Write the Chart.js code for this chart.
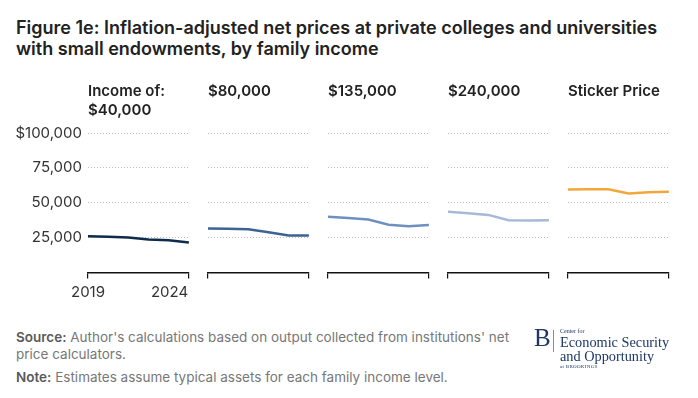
<!DOCTYPE html>
<html>
<head>
<meta charset="utf-8">
<script src="https://cdn.jsdelivr.net/npm/chart.js@4.4.1/dist/chart.umd.min.js"></script>
<style>
  html, body { margin: 0; padding: 0; background: #fff; }
  body { width: 698px; height: 398px; position: relative; overflow: hidden; font-family: Inter, 'Noto Sans', sans-serif; }
  .title { position: absolute; left: 16px; top: 17px; font-size: 18px; line-height: 21px; font-weight: 600; color: #222; }
  canvas.panel { position: absolute; top: 70px; }
  .foot { position: absolute; left: 16px; font-size: 13.5px; line-height: 17px; color: #777; width: 512px; }
  .foot b { color: #5a5a5a; font-weight: 600; }
  .logo { position: absolute; left: 534px; top: 326px; color: #1d3767; font-family: 'Liberation Serif', 'DejaVu Serif', serif; }
  .logo .big { position: absolute; left: 0; top: 0; font-size: 25px; line-height: 24px; }
  .logo .bar { position: absolute; left: 19px; top: 4px; width: 1px; height: 22px; background: #7d8db0; }
  .logo .sm { position: absolute; left: 26px; font-size: 6px; white-space: nowrap; }
  .logo .mid { position: absolute; left: 26px; font-size: 14.3px; line-height: 14px; white-space: nowrap; }
</style>
</head>
<body>
<div class="title">Figure 1e: Inflation-adjusted net prices at private colleges and universities<br>with small endowments, by family income</div>

<canvas class="panel" id="p0" width="232" height="240" style="left:0px"></canvas>
<canvas class="panel" id="p1" width="232" height="240" style="left:120px"></canvas>
<canvas class="panel" id="p2" width="232" height="240" style="left:240px"></canvas>
<canvas class="panel" id="p3" width="232" height="240" style="left:360px"></canvas>
<canvas class="panel" id="p4" width="232" height="240" style="left:480px"></canvas>

<div class="foot" style="top:329px"><b>Source:</b> Author's calculations based on output collected from institutions' net price calculators.</div>
<div class="foot" style="top:369px"><b>Note:</b> Estimates assume typical assets for each family income level.</div>

<div class="logo">
  <div class="big">B</div>
  <div class="bar"></div>
  <div class="sm" style="top:2px">Center for</div>
  <div class="mid" style="top:9px">Economic Security</div>
  <div class="mid" style="top:23px">and Opportunity</div>
  <div class="sm" style="top:38px; font-size:5px; letter-spacing:0.3px">at BROOKINGS</div>
</div>

<script>
// years on the x axis
const years = [2019, 2020, 2021, 2022, 2023, 2024];

// net price by family income, inflation-adjusted dollars
const income40k = [26000, 25600, 25100, 23600, 23100, 21500];
const income80k = [31500, 31300, 31000, 28800, 26500, 26500];
const income135k = [40000, 39000, 38000, 34300, 33200, 34000];
const income240k = [43600, 42400, 41300, 37400, 37300, 37400];
const stickerPrice = [59500, 59600, 59700, 56600, 57500, 57800];

const panelTitles = [['Income of:', '$40,000'], ['$80,000', ' '], ['$135,000', ' '], ['$240,000', ' '], ['Sticker Price', ' ']];
const panelSeries = [income40k, income80k, income135k, income240k, stickerPrice];
const panelColors = ['#0e2a4c', '#3b6393', '#6d90c0', '#a5bad7', '#f2a73a'];

const yTicks = [0, 25000, 50000, 75000, 100000];

function panel(i) {
  const first = i === 0;
  new Chart(document.getElementById('p' + i), {
    type: 'line',
    data: {
      datasets: [{
        data: years.map((y, k) => ({ x: y, y: panelSeries[i][k] })),
        borderColor: panelColors[i],
        borderWidth: 2.5,
        pointRadius: 0,
        tension: 0
      }]
    },
    options: {
      responsive: false,
      devicePixelRatio: 1,
      animation: false,
      layout: { padding: { left: 0, right: 40, top: 0, bottom: 3.5 } },
      plugins: {
        legend: { display: false },
        tooltip: { enabled: false },
        title: {
          display: true,
          text: panelTitles[i],
          align: 'start',
          fullSize: false,
          color: '#222',
          font: { family: 'Inter', size: 15, weight: '600', lineHeight: 19 / 15 },
          padding: { top: 12, bottom: 13 }
        }
      },
      scales: {
        x: {
          type: 'linear',
          min: 2019,
          max: 2024,
          afterBuildTicks: s => { s.ticks = [{ value: 2019 }, { value: 2024 }]; },
          grid: { drawOnChartArea: false, drawTicks: true, tickLength: 6, color: '#111', lineWidth: 1.2 },
          border: { display: true, color: '#111', width: 1.5 },
          ticks: {
            padding: 5,
            color: first ? '#333' : 'rgba(0,0,0,0)',
            font: { family: 'Inter', size: 15 },
            maxRotation: 0,
            // pad 2024 with figure spaces so it ends at the tick like the reference
            callback: v => v === 2024 ? '2024\u2007\u2007\u2007\u2007' : String(v)
          }
        },
        y: {
          min: 0,
          max: 100000,
          afterBuildTicks: s => { s.ticks = yTicks.map(v => ({ value: v })); },
          afterFit: s => { s.width = 88; },
          grid: {
            drawTicks: false,
            color: c => c.tick && c.tick.value === 0 ? 'rgba(0,0,0,0)' : '#bdbdbd',
            lineWidth: 1
          },
          border: { display: false, dash: [1, 2] },
          ticks: {
            display: first,
            padding: 6,
            color: '#333',
            font: { family: 'Inter', size: 15 },
            callback: v => v === 0 ? '' : (v === 100000 ? '$' : '') + v.toLocaleString('en-US')
          }
        }
      }
    }
  });
}

for (let i = 0; i < 5; i++) panel(i);
</script>
</body>
</html>
